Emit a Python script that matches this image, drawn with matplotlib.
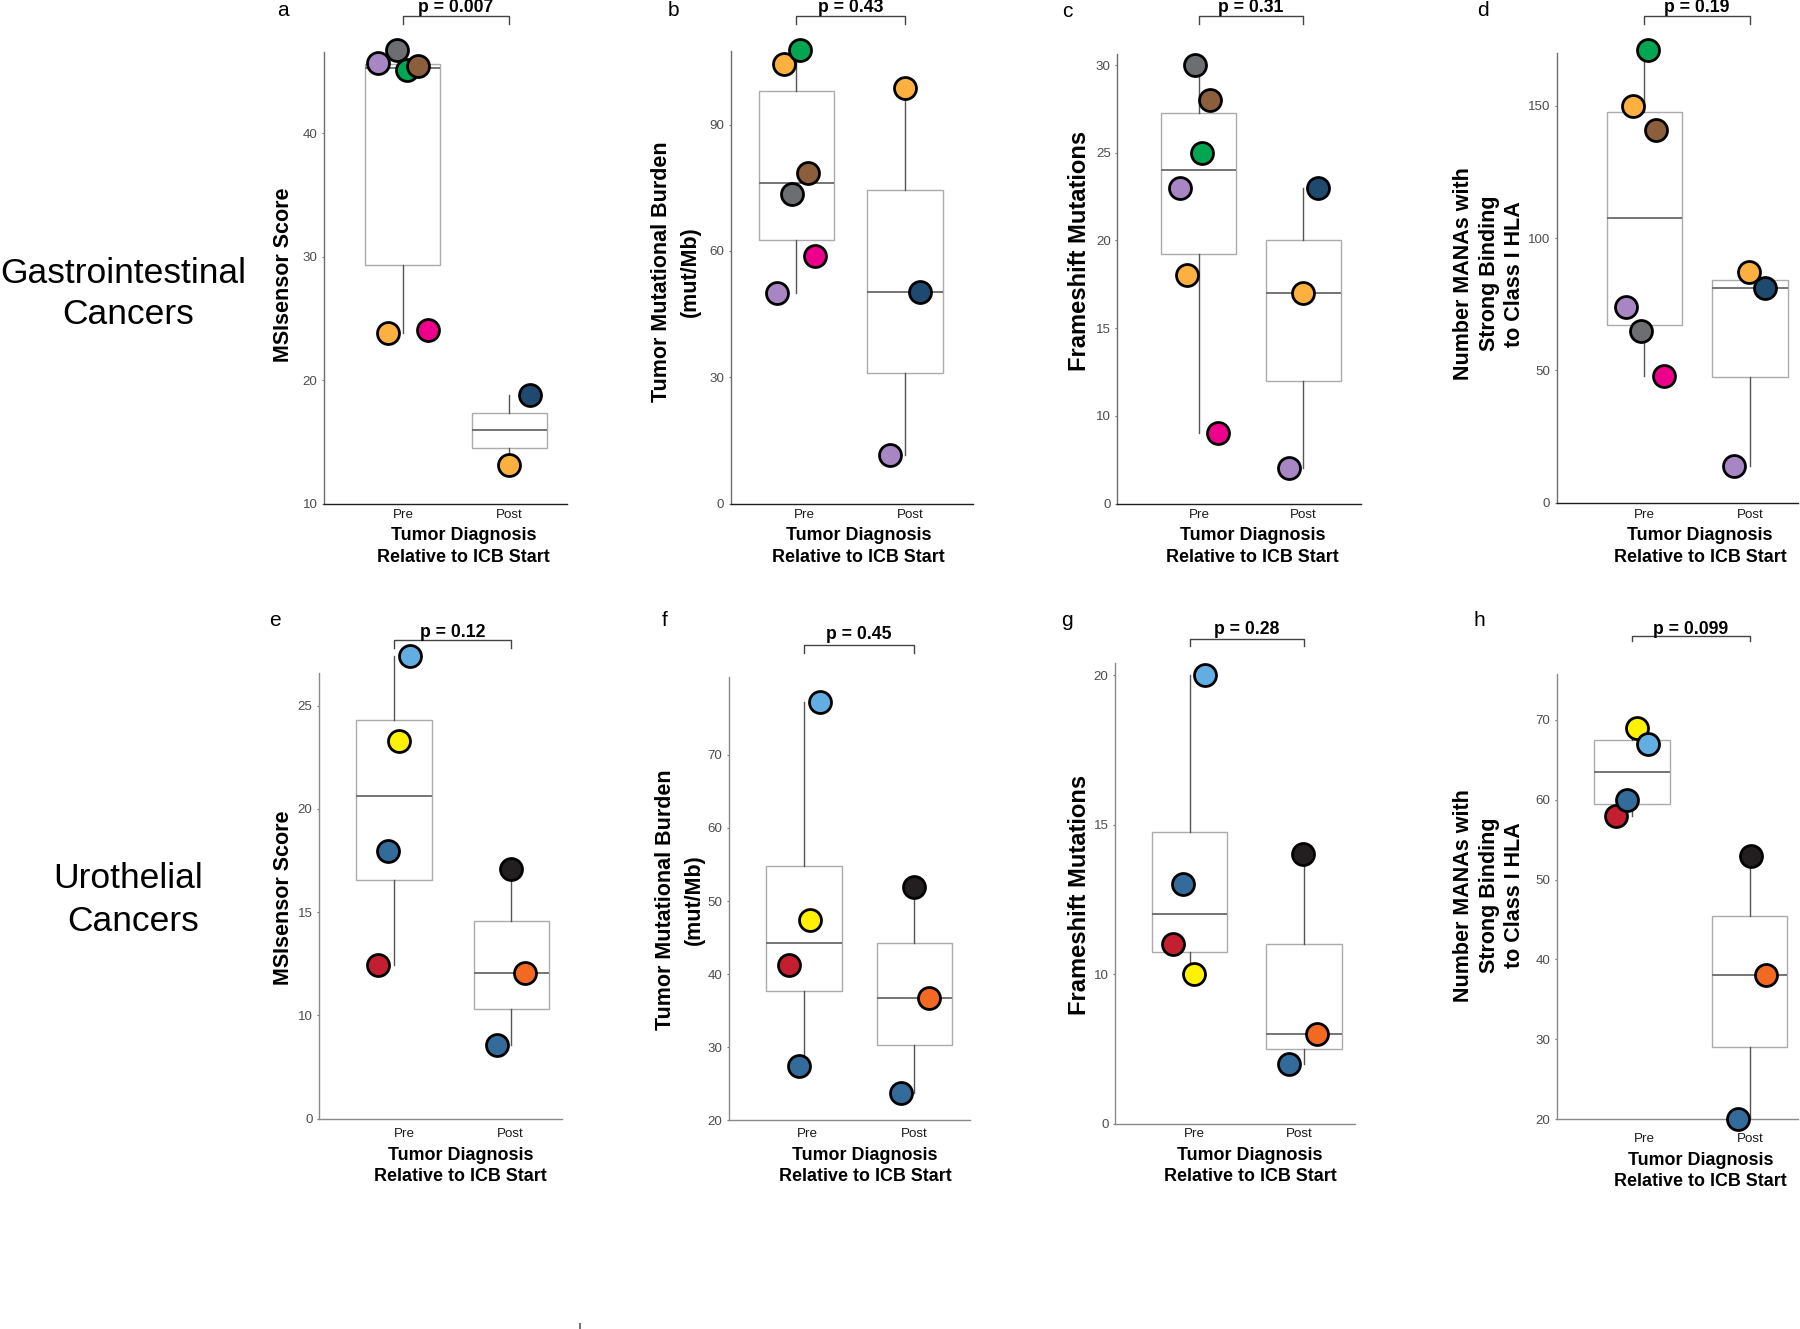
import matplotlib
matplotlib.use('Agg')
import matplotlib.pyplot as plt
from matplotlib.transforms import blended_transform_factory
from matplotlib.lines import Line2D

plt.rcParams['font.family'] = ['Liberation Sans', 'DejaVu Sans']

# ---------------- colours ----------------
PURPLE = '#A886C3'
GRAY = '#6D6E71'
GREEN = '#00A651'
BROWN = '#8B5E3C'
ORANGE = '#FBB040'
MAGENTA = '#EC008C'
NAVY = '#1F4A6F'
LBLUE = '#62AEE2'
YELLOW = '#FFF200'
SBLUE = '#336B9A'
RED = '#C41F30'
BLACK = '#231F20'
UORANGE = '#F26A22'

# ---------------- data ----------------
groups = ['Pre', 'Post']

a_pre = [45.7, 46.7, 45.1, 45.4, 23.8, 24.1]
a_pre_col = [PURPLE, GRAY, GREEN, BROWN, ORANGE, MAGENTA]
a_pre_jit = [-0.234, -0.05, 0.044, 0.14, -0.14, 0.234]
a_post = [18.8, 13.15]
a_post_col = [NAVY, ORANGE]
a_post_jit = [0.19, 0.0]

b_pre = [104.3, 107.8, 78.6, 73.6, 58.9, 49.9]
b_pre_col = [ORANGE, GREEN, BROWN, GRAY, MAGENTA, PURPLE]
b_pre_jit = [-0.11, 0.034, 0.105, -0.037, 0.17, -0.18]
b_post = [98.7, 50.3, 11.5]
b_post_col = [ORANGE, NAVY, PURPLE]
b_post_jit = [0.0, 0.14, -0.14]

c_pre = [30, 28, 25, 23, 18, 9]
c_pre_col = [GRAY, BROWN, GREEN, PURPLE, ORANGE, MAGENTA]
c_pre_jit = [-0.035, 0.108, 0.035, -0.175, -0.11, 0.18]
c_post = [23, 17, 7]
c_post_col = [NAVY, ORANGE, PURPLE]
c_post_jit = [0.14, 0.0, -0.14]

d_pre = [170.9, 149.9, 140.9, 74.1, 65.0, 48.0]
d_pre_col = [GREEN, ORANGE, BROWN, PURPLE, GRAY, MAGENTA]
d_pre_jit = [0.038, -0.11, 0.11, -0.177, -0.032, 0.186]
d_post = [87.1, 81.0, 14.0]
d_post_col = [ORANGE, NAVY, PURPLE]
d_post_jit = [-0.006, 0.139, -0.151]

e_pre = [27.4, 23.28, 17.96, 12.44]
e_pre_col = [LBLUE, YELLOW, SBLUE, RED]
e_pre_jit = [0.136, 0.043, -0.048, -0.14]
e_post = [17.07, 12.07, 8.56]
e_post_col = [BLACK, UORANGE, SBLUE]
e_post_jit = [0.0, 0.12, -0.12]

f_pre = [77.2, 47.35, 41.2, 27.4]
f_pre_col = [LBLUE, YELLOW, RED, SBLUE]
f_pre_jit = [0.145, 0.05, -0.14, -0.045]
f_post = [51.86, 36.75, 23.8]
f_post_col = [BLACK, UORANGE, SBLUE]
f_post_jit = [0.0, 0.136, -0.124]

g_pre = [20, 13, 11, 10]
g_pre_col = [LBLUE, SBLUE, RED, YELLOW]
g_pre_jit = [0.13, -0.057, -0.15, 0.036]
g_post = [14, 8, 7]
g_post_col = [BLACK, UORANGE, SBLUE]
g_post_jit = [-0.009, 0.114, -0.134]

h_pre = [69, 67, 58, 60]
h_pre_col = [YELLOW, LBLUE, RED, SBLUE]
h_pre_jit = [0.042, 0.139, -0.133, -0.042]
h_post = [53, 38, 20]
h_post_col = [BLACK, UORANGE, SBLUE]
h_post_jit = [0.007, 0.137, -0.10]

p_labels = ['p = 0.007', 'p = 0.43', 'p = 0.31', 'p = 0.19',
            'p = 0.12', 'p = 0.45', 'p = 0.28', 'p = 0.099']
panel_letters = ['a', 'b', 'c', 'd', 'e', 'f', 'g', 'h']

a_ticks = [10, 20, 30, 40]
a_ticklabels = ['10', '20', '30', '40']
b_ticks = [0, 30, 60, 90]
b_ticklabels = ['0', '30', '60', '90']
c_ticks = [5, 10, 15, 20, 25, 30]
c_ticklabels = ['0', '10', '15', '20', '25', '30']
d_ticks = [0, 50, 100, 150]
d_ticklabels = ['0', '50', '100', '150']
e_ticks = [5, 10, 15, 20, 25]
e_ticklabels = ['0', '10', '15', '20', '25']
f_ticks = [20, 30, 40, 50, 60, 70]
f_ticklabels = ['20', '30', '40', '50', '60', '70']
g_ticks = [5, 10, 15, 20]
g_ticklabels = ['0', '10', '15', '20']
h_ticks = [20, 30, 40, 50, 60, 70]
h_ticklabels = ['20', '30', '40', '50', '60', '70']

msi_label = ['MSIsensor Score']
tmb_label = ['Tumor Mutational Burden', '(mut/Mb)']
fs_label = ['Frameshift Mutations']
mana_label = ['Number MANAs with', 'Strong Binding', 'to Class I HLA']
xtitle = ['Tumor Diagnosis', 'Relative to ICB Start']
row_labels = [['Gastrointestinal', 'Cancers'], ['Urothelial', 'Cancers']]

# ---------------- layout (pixels in 1800x1329 canvas) ----------------
W, H = 1800, 1329
fig = plt.figure(figsize=(18, 13.29), dpi=100)


def fxp(x):
    return x / W


def fyp(y):
    return 1 - y / H


def pt(px):
    return px * 72 / 100


TOP_SPINE = dict(left='#6E6E6E', bottom='#1E1E1E')
BOT_SPINE = dict(left='#8A8A8A', bottom='#8A8A8A')

panels = [
    dict(pre=a_pre, pc=a_pre_col, pj=a_pre_jit, post=a_post, qc=a_post_col, qj=a_post_jit,
         ticks=a_ticks, tl=a_ticklabels, ylab=msi_label,
         rect=(324, 567, 52.3, 503.9), cx=(402.7, 509.3), ylim=(10, 46.54), xlo=(1, 0),
         ylx=[289.3], yly=274.5, ylfs=15.5, xpad=5.0, xt_x=463.3, xt_y=(539.6, 561.5),
         br=(15.6, 23.7), pty=12.5, let=(283, 16.4), sp=TOP_SPINE),
    dict(pre=b_pre, pc=b_pre_col, pj=b_pre_jit, post=b_post, qc=b_post_col, qj=b_post_jit,
         ticks=b_ticks, tl=b_ticklabels, ylab=tmb_label,
         rect=(730.7, 973, 50.9, 503.5), cx=(796.3, 905), ylim=(0, 107.5), xlo=(8, 5),
         ylx=[667.3, 696.3], yly=271.9, ylfs=15.5, xpad=5.3, xt_x=858.3, xt_y=(539.6, 561.5),
         br=(15.6, 23.7), pty=12.5, let=(673, 16.4), sp=TOP_SPINE),
    dict(pre=c_pre, pc=c_pre_col, pj=c_pre_jit, post=c_post, qc=c_post_col, qj=c_post_jit,
         ticks=c_ticks, tl=c_ticklabels, ylab=fs_label,
         rect=(1117.3, 1360.7, 53.8, 503.5), cx=(1198.7, 1303.3), ylim=(5, 30.64), xlo=(1, 0),
         ylx=[1086], yly=251.2, ylfs=17.1, xpad=5.3, xt_x=1252.7, xt_y=(539.6, 561.5),
         br=(15.6, 23.7), pty=12.5, let=(1067, 17.1), sp=TOP_SPINE),
    dict(pre=d_pre, pc=d_pre_col, pj=d_pre_jit, post=d_post, qc=d_post_col, qj=d_post_jit,
         ticks=d_ticks, tl=d_ticklabels, ylab=mana_label,
         rect=(1556.7, 1798, 52.7, 502.8), cx=(1644.3, 1750), ylim=(0, 170), xlo=(0, 0),
         ylx=[1469.3, 1494.6, 1520], yly=273.7, ylfs=15.5, xpad=6.0, xt_x=1700, xt_y=(539.6, 561.5),
         br=(15.6, 23.7), pty=12.5, let=(1483, 16.4), sp=TOP_SPINE),
    dict(pre=e_pre, pc=e_pre_col, pj=e_pre_jit, post=e_post, qc=e_post_col, qj=e_post_jit,
         ticks=e_ticks, tl=e_ticklabels, ylab=msi_label,
         rect=(319, 561.7, 672.7, 1118.6), cx=(394, 511.3), ylim=(5, 26.6), xlo=(10, -1),
         ylx=[289.3], yly=897.6, ylfs=15.5, xpad=9.5, xt_x=460.7, xt_y=(1159.8, 1181.4),
         br=(639.8, 647.9), pty=637.1, let=(275, 626.2), sp=BOT_SPINE),
    dict(pre=f_pre, pc=f_pre_col, pj=f_pre_jit, post=f_post, qc=f_post_col, qj=f_post_jit,
         ticks=f_ticks, tl=f_ticklabels, ylab=tmb_label,
         rect=(729, 970, 676.6, 1120.4), cx=(804, 914.3), ylim=(20, 80.7), xlo=(3, 0),
         ylx=[670.7, 700], yly=899.4, ylfs=15.5, xpad=7.7, xt_x=865, xt_y=(1159.8, 1181.4),
         br=(644.8, 652.8), pty=639.4, let=(665, 626.2), sp=BOT_SPINE),
    dict(pre=g_pre, pc=g_pre_col, pj=g_pre_jit, post=g_post, qc=g_post_col, qj=g_post_jit,
         ticks=g_ticks, tl=g_ticklabels, ylab=fs_label,
         rect=(1115, 1355, 663.1, 1123.5), cx=(1189.8, 1304), ylim=(5, 20.4), xlo=(4.6, -4.6),
         ylx=[1086], yly=894.7, ylfs=17.1, xpad=4.6, xt_x=1250, xt_y=(1159.8, 1181.4),
         br=(638.7, 645.9), pty=633.6, let=(1067, 626.4), sp=BOT_SPINE),
    dict(pre=h_pre, pc=h_pre_col, pj=h_pre_jit, post=h_post, qc=h_post_col, qj=h_post_jit,
         ticks=h_ticks, tl=h_ticklabels, ylab=mana_label,
         rect=(1556.7, 1798, 673.5, 1119.2), cx=(1632, 1749.8), ylim=(20, 75.8), xlo=(12.6, 0),
         ylx=[1469.3, 1494.6, 1520], yly=895.4, ylfs=15.5, xpad=13.8, xt_x=1700.7, xt_y=(1165.0, 1186.4),
         br=(635.6, 641.0), pty=633.6, let=(1479, 626.4), sp=BOT_SPINE),
]

BOX_PX = 75.3

for i, P in enumerate(panels):
    L, R, T, B = P['rect']
    ax = fig.add_axes([fxp(L), fyp(B), (R - L) / W, (B - T) / H])
    pre_px, post_px = P['cx']
    unit = post_px - pre_px
    x0 = 1 - (pre_px - L) / unit
    x1 = 2 + (R - post_px) / unit
    ax.set_xlim(x0, x1)
    ax.set_ylim(*P['ylim'])
    bw = BOX_PX / unit

    bp = ax.boxplot([P['pre'], P['post']], positions=[1, 2], widths=bw, whis=1.5,
                    showfliers=False, showcaps=False, patch_artist=True, manage_ticks=False,
                    boxprops=dict(facecolor='white', edgecolor='#ABABAB', linewidth=1.0),
                    medianprops=dict(color='#6A6A6A', linewidth=1.3),
                    whiskerprops=dict(color='#555555', linewidth=1.0))
    for key in bp:
        for art in bp[key]:
            art.set_clip_on(False)
            art.set_zorder(2)

    for pos, vals, cols, jit in [(1, P['pre'], P['pc'], P['pj']), (2, P['post'], P['qc'], P['qj'])]:
        for v, c, j in zip(vals, cols, jit):
            ax.scatter([pos + j], [v], s=250, c=c, edgecolors='black', linewidths=2.0,
                       zorder=3, clip_on=False)

    for s in ['top', 'right']:
        ax.spines[s].set_visible(False)
    for s in ['left', 'bottom']:
        ax.spines[s].set_color(P['sp'][s])
        ax.spines[s].set_linewidth(1.0)

    ax.set_yticks(P['ticks'], P['tl'])
    ax.tick_params(axis='y', length=pt(2.0), width=0.8, color='#777777', pad=pt(4.5),
                   labelsize=9.6, labelcolor='#4D4D4D')
    lo_pre, lo_post = P['xlo']
    ax.set_xticks([1 + lo_pre / unit, 2 + lo_post / unit], groups)
    ax.tick_params(axis='x', length=0, pad=pt(P['xpad']), labelsize=9.6, labelcolor='#1A1A1A')

    # y-axis title (one text per line)
    for line, bx in zip(P['ylab'], P['ylx']):
        fig.text(fxp(bx), fyp(P['yly']), line, rotation=90, rotation_mode='anchor',
                 ha='center', va='baseline', fontsize=P['ylfs'], fontweight='bold', color='black')
    # x-axis title
    for line, by in zip(xtitle, P['xt_y']):
        fig.text(fxp(P['xt_x']), fyp(by), line, ha='center', va='baseline',
                 fontsize=12.9, fontweight='bold', color='black')

    # significance bracket
    tr = blended_transform_factory(ax.transData, fig.transFigure)
    yb, ye = P['br']
    ax.plot([1, 1, 2, 2], [fyp(ye), fyp(yb), fyp(yb), fyp(ye)], transform=tr,
            color='#444444', linewidth=1.0, clip_on=False)
    ax.text(1.5, fyp(P['pty']), p_labels[i], transform=tr, ha='center', va='baseline',
            fontsize=12.7, fontweight='bold', color='black', clip_on=False)

    lx, ly = P['let']
    fig.text(fxp(lx), fyp(ly), panel_letters[i], ha='center', va='baseline',
             fontsize=15, color='black')

# row labels
row_pos = [((123.5, 283.3), (128, 324.3)), ((128.6, 887.5), (133, 931))]
for lines, poss in zip(row_labels, row_pos):
    for line, (x, y) in zip(lines, poss):
        fig.text(fxp(x), fyp(y), line, ha='center', va='baseline', fontsize=25.5, color='black')

# small stray mark at the bottom of the original figure
fig.add_artist(Line2D([fxp(580), fxp(580)], [fyp(1324), fyp(1329)], color='#777777', linewidth=1.5))

fig.savefig('out.png', dpi=100, facecolor='white')
